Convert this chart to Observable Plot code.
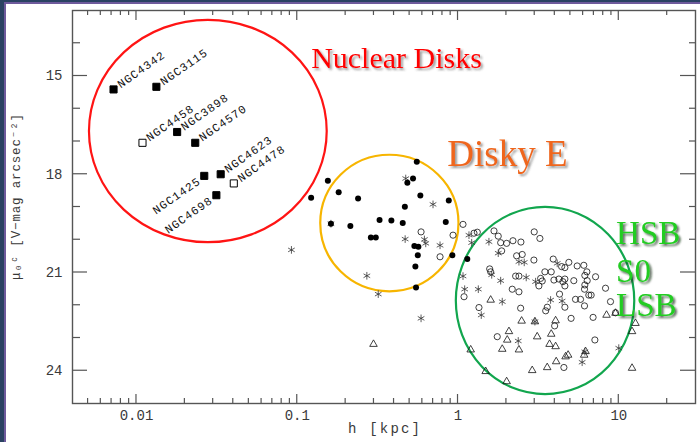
<!DOCTYPE html>
<html><head><meta charset="utf-8">
<script src="https://cdn.jsdelivr.net/npm/d3@7"></script>
<script src="https://cdn.jsdelivr.net/npm/@observablehq/plot@0.6"></script>
<style>
html,body{margin:0;padding:0;background:#fff;}
#wrap{position:relative;width:700px;height:442px;overflow:hidden;}
.strip{position:absolute;}
g[aria-label="x-axis"] text, g[aria-label="y-axis"] text { letter-spacing: 2px; }
</style></head><body>
<div id="wrap"></div>
<script>
// ---------------- data ----------------
const nuclearNames = ["NGC4342","NGC3115","NGC4458","NGC3898","NGC4570","NGC1425","NGC4623","NGC4478","NGC4698"];
const nuclearH     = [0.0072, 0.0133, 0.0109, 0.0179, 0.0232, 0.0264, 0.0334, 0.0403, 0.0314];
const nuclearMu    = [15.41, 15.33, 17.04, 16.71, 17.04, 18.05, 18.00, 18.28, 18.64];
const nuclearFilled= [true, true, false, true, true, true, true, false, true];
const nuclearLabelLeft = [false, false, false, false, false, true, false, false, true];

const diskyE = [[0.554,17.62],[0.484,18.26],[0.525,18.13],[0.155,18.20],[0.181,18.55],[0.122,18.72],[0.239,18.74],[0.583,18.65],[0.876,18.80],[0.467,18.99],[0.325,19.40],[0.385,19.41],[0.453,19.49],[0.839,19.46],[0.162,19.51],[0.214,19.58],[0.287,19.93],[0.308,19.93],[0.535,20.19],[0.567,20.21],[0.562,20.47],[0.543,20.82],[0.922,20.47],[1.142,20.59],[0.548,21.46]];

const stars = [[0.092,20.31],[0.473,18.13],[0.699,18.92],[0.469,19.98],[0.618,19.99],[0.630,20.11],[0.773,20.17],[0.162,19.51],[0.271,21.10],[0.319,21.66],[0.589,22.40],[1.170,19.86],[1.216,20.09],[1.557,20.06],[1.779,20.41],[2.393,20.67],[2.581,20.69],[4.14,20.72],[1.62,21.07],[1.842,21.25],[2.656,21.15],[3.038,21.28],[1.074,21.11],[1.10,21.51],[1.337,21.51],[1.884,21.89],[3.766,21.84],[4.44,21.87],[1.395,22.30],[3.008,22.50],[2.369,23.09],[5.916,23.74],[10.0,23.31],[6.15,23.42]];

const openCircles = [[1.074,19.53],[0.931,19.86],[1.257,19.80],[1.318,19.77],[1.674,19.73],[1.779,19.89],[1.842,20.09],[2.006,20.11],[2.196,20.03],[2.462,20.07],[2.978,19.76],[3.23,19.96],[1.868,20.34],[2.315,20.49],[2.508,20.45],[2.965,20.62],[3.91,20.59],[4.41,20.82],[4.62,20.85],[4.89,20.69],[5.51,20.80],[6.06,20.78],[1.574,20.89],[1.596,20.98],[2.282,21.11],[2.393,21.11],[3.265,21.18],[3.34,21.26],[3.185,21.41],[3.47,20.98],[3.80,20.98],[3.95,21.23],[4.24,21.20],[4.62,21.20],[4.49,21.28],[5.25,21.25],[6.15,21.09],[6.33,20.98],[6.36,21.25],[6.15,21.38],[7.17,21.13],[4.62,21.41],[6.12,21.51],[6.51,21.69],[6.73,21.69],[8.27,21.48],[8.88,21.89],[1.09,21.74],[2.174,21.51],[2.393,21.59],[2.452,22.09],[4.28,21.66],[5.38,21.82],[5.78,21.82],[4.62,22.06],[6.12,22.02],[3.59,22.06],[3.51,22.17],[1.35,22.07],[5.05,22.40],[6.92,22.37],[3.99,22.63],[1.754,22.96],[7.10,23.06],[4.555,23.90],[9.54,22.23],[0.589,19.76],[0.773,20.52]];

const triangles = [[0.298,23.19],[1.596,21.84],[2.487,22.48],[3.008,22.50],[4.045,22.47],[2.074,22.80],[2.024,23.06],[3.108,22.96],[3.80,22.88],[3.71,23.19],[4.045,23.26],[1.884,23.34],[2.393,23.36],[1.199,23.36],[4.667,23.57],[4.84,23.52],[4.08,23.72],[6.09,23.52],[6.21,23.41],[12.09,23.92],[1.486,24.02],[2.894,23.99],[3.587,23.90],[2.006,24.33],[8.39,22.30],[9.54,22.24],[12.7,22.55],[12.09,22.80]];

// region ellipses: bounding box in data units
const regionNames = ["nuclear","diskyE","hsb"];
const regionHMin  = [0.0051, 0.140, 0.976];
const regionHMax  = [0.1536, 1.014, 12.57];
const regionMuMin = [13.30, 17.42, 19.01];
const regionMuMax = [20.09, 21.59, 24.73];
const regionColors = ["#ff1414", "#f7b500", "#12a64e"];

// annotation labels
const annText = ["Nuclear Disks", "Disky E", "HSB", "S0", "LSB"];
const annH    = [0.122, 0.858, 9.62, 9.62, 9.62];
const annMu   = [14.45, 17.39, 19.82, 20.96, 22.0];

// axis ticks and titles
const xMajorTicks = [0.01, 0.1, 1, 10];
const xMinorTicks = [0.005,0.006,0.007,0.008,0.009,0.02,0.03,0.04,0.05,0.06,0.07,0.08,0.09,0.2,0.3,0.4,0.5,0.6,0.7,0.8,0.9,2,3,4,5,6,7,8,9,20];
const yMajorTicks = [15, 18, 21, 24];
const yMinorTicks = [14, 16, 17, 19, 20, 22, 23];
const xTitle = "h [kpc]";
const yTitle = "μ₀ᶜ [V−mag arcsec⁻²]";

// ---------------- rendering ----------------
const nuclear = nuclearNames.map((n, i) => ({name: n, h: nuclearH[i], mu: nuclearMu[i], filled: nuclearFilled[i], left: nuclearLabelLeft[i]}));
const ann = annText.map((t, i) => ({t, h: annH[i], mu: annMu[i]}));

function regionEllipses(index, scales) {
  const g = d3.create("svg:g").attr("fill", "none").attr("stroke-width", 2.2);
  regionNames.forEach((n, i) => {
    const x1 = scales.x(regionHMin[i]), x2 = scales.x(regionHMax[i]);
    const y1 = scales.y(regionMuMin[i]), y2 = scales.y(regionMuMax[i]);
    g.append("ellipse")
      .attr("cx", (x1 + x2) / 2).attr("cy", (y1 + y2) / 2)
      .attr("rx", Math.abs(x2 - x1) / 2).attr("ry", Math.abs(y2 - y1) / 2)
      .attr("stroke", regionColors[i]);
  });
  return g.node();
}

function axisTicks(index, scales, values, dims) {
  const {width, height, marginLeft, marginRight, marginTop, marginBottom} = dims;
  const L = marginLeft, R = width - marginRight, T = marginTop, B = height - marginBottom;
  const g = d3.create("svg:g").attr("stroke", "#555").attr("stroke-width", 1.2);
  const seg = (a, b, c, d) => g.append("line").attr("x1", a).attr("y1", b).attr("x2", c).attr("y2", d);
  xMajorTicks.forEach(v => { const p = scales.x(v); seg(p, B, p, B - 9); seg(p, T, p, T + 10); });
  xMinorTicks.forEach(v => { const p = scales.x(v); seg(p, B, p, B - 5); seg(p, T, p, T + 5); });
  yMajorTicks.forEach(v => { const p = scales.y(v); seg(L, p, L + 15, p); seg(R, p, R - 15, p); });
  yMinorTicks.forEach(v => { const p = scales.y(v); seg(L, p, L + 8, p); seg(R, p, R - 6, p); });
  return g.node();
}

const serif = "'Liberation Serif', 'Times New Roman', serif";
const mono = "'Liberation Mono', monospace";

const plot = Plot.plot({
  width: 700, height: 442,
  marginLeft: 72, marginRight: 5, marginTop: 10, marginBottom: 39,
  style: {fontFamily: mono, fontSize: "14px", color: "#3a3a3a", background: "transparent", overflow: "visible"},
  x: {type: "log", domain: [0.004, 30], ticks: xMajorTicks, tickFormat: d => String(d), tickSize: 0, tickPadding: 7, label: null},
  y: {domain: [13, 25], reverse: true, ticks: yMajorTicks, tickSize: 0, tickPadding: 10, label: null},
  marks: [
    regionEllipses,
    Plot.frame({stroke: "#555", strokeWidth: 1.4}),
    axisTicks,
    Plot.text([xTitle], {frameAnchor: "bottom", text: d => d, textAnchor: "middle", dy: 29, fontFamily: mono, fontSize: 14, fill: "#3a3a3a"}),
    Plot.text([yTitle], {frameAnchor: "left", text: d => d, textAnchor: "middle", rotate: -90, dx: -57, dy: -10, fontFamily: mono, fontSize: 12.5, fill: "#3a3a3a"}),
    Plot.dot(triangles, {x: d => d[0], y: d => d[1], symbol: "triangle", r: 2.8, stroke: "#111", strokeWidth: 0.8, fill: "none"}),
    Plot.dot(openCircles, {x: d => d[0], y: d => d[1], symbol: "circle", r: 3.1, stroke: "#111", strokeWidth: 0.8, fill: "none"}),
    Plot.dot(stars, {x: d => d[0], y: d => d[1], symbol: "asterisk", r: 3.6, stroke: "#333", strokeWidth: 0.8}),
    Plot.dot(diskyE, {x: d => d[0], y: d => d[1], symbol: "circle", r: 3, fill: "#000", stroke: "none"}),
    Plot.dot(nuclear, {x: "h", y: "mu", symbol: "square", r: 4, fill: d => d.filled ? "#000" : "#fff", stroke: "#000", strokeWidth: 1}),
    Plot.text(nuclear.filter(d => !d.left), {x: "h", y: "mu", text: "name", rotate: -35, textAnchor: "start", dx: 5, dy: -4, fontFamily: mono, fontSize: 11.5, fill: "#111"}),
    Plot.text(nuclear.filter(d => d.left), {x: "h", y: "mu", text: "name", rotate: -35, textAnchor: "end", dx: -5, dy: 4, fontFamily: mono, fontSize: 11.5, fill: "#111"}),
    Plot.text(ann.slice(0, 1), {x: "h", y: "mu", text: "t", textAnchor: "start", fontFamily: serif, fontSize: 30, fill: "#ff0000"}),
    Plot.text(ann.slice(1, 2), {x: "h", y: "mu", text: "t", textAnchor: "start", fontFamily: serif, fontSize: 37, fill: "#ef661c"}),
    Plot.text(ann.slice(2, 5), {x: "h", y: "mu", text: "t", textAnchor: "start", fontFamily: serif, fontSize: 33, fill: "#20cc20"})
  ]
});

// drop shadows for the region captions
const svg = d3.select(plot);
const defs = svg.insert("defs", ":first-child");
[["shGray", "#444", 0.55], ["shDark", "#0f2a0f", 0.7]].forEach(([id, col, op]) => {
  defs.append("filter").attr("id", id).attr("x", "-10%").attr("y", "-30%").attr("width", "130%").attr("height", "170%")
    .append("feDropShadow").attr("dx", 2).attr("dy", 2).attr("stdDeviation", 0.8)
    .attr("flood-color", col).attr("flood-opacity", op);
});
plot.querySelectorAll("text").forEach(t => {
  const s = t.textContent;
  if (/^NGC/.test(s)) t.style.letterSpacing = "1px";
  if (s === xTitle) { t.setAttribute("textLength", 72); t.setAttribute("lengthAdjust", "spacing"); }
  if (s === yTitle) { t.setAttribute("textLength", 166); t.setAttribute("lengthAdjust", "spacing"); }
  if (s === "Nuclear Disks" || s === "Disky E") t.setAttribute("filter", "url(#shGray)");
  if (s === "HSB" || s === "S0" || s === "LSB") t.setAttribute("filter", "url(#shDark)");
});

const wrap = document.getElementById("wrap");
wrap.appendChild(plot);
const strips = [
  {l: 0, t: 0, w: 700, h: 2, c: "#2a4262"},
  {l: 0, t: 2, w: 700, h: 2, c: "#6e5a9c"},
  {l: 0, t: 0, w: 4, h: 442, c: "#2a4262"},
  {l: 4, t: 2, w: 2, h: 440, c: "#6e5a9c"}
];
strips.forEach(s => {
  const d = document.createElement("div");
  d.className = "strip";
  Object.assign(d.style, {left: s.l + "px", top: s.t + "px", width: s.w + "px", height: s.h + "px", background: s.c});
  wrap.appendChild(d);
});
</script>
</body></html>
